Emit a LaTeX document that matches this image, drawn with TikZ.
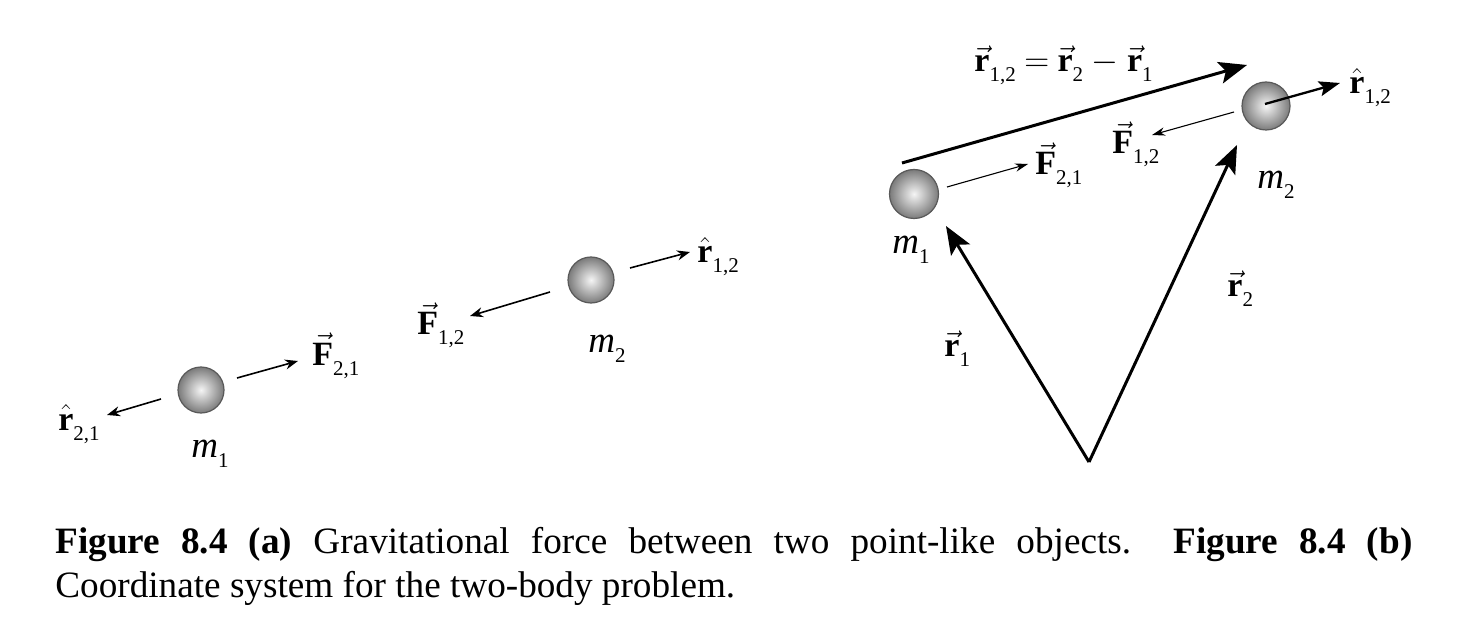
\documentclass[tikz,border=0pt]{standalone}
\usepackage{fontspec}
\setmainfont{Liberation Serif}
\usetikzlibrary{arrows.meta}
\newcommand{\vecF}{$\vec{\textbf{F}}$}
\newcommand{\vecr}{$\vec{\textbf{r}}$}
\newcommand{\hatr}{$\hat{\textbf{r}}$}
\newcommand{\sub}[1]{\raisebox{-5pt}{\fontsize{10.5}{11}\selectfont\upshape\mdseries #1}}
\begin{document}
\begin{tikzpicture}[x=0.5pt,y=-0.5pt,
  lab/.style={inner sep=0pt, anchor=base west, font=\fontsize{17}{20}\selectfont},
  mlab/.style={inner sep=0pt, anchor=base west, font=\fontsize{18.5}{20}\selectfont\itshape},
  sphere/.style={circle, minimum size=#1, inner sep=0pt, draw=black!65, line width=0.6pt, inner color=black!4, outer color=black!52},
  thinarr/.style={line width=0.8pt, -{Stealth[length=6.5pt,width=5pt]}},
  fthin/.style={line width=0.55pt, -{Stealth[length=6.5pt,width=4.2pt]}},
  medarr/.style={line width=1.15pt, -{Stealth[length=10.5pt,width=7.5pt,inset=2pt]}},
  thickarr/.style={line width=1.5pt, -{Stealth[length=14pt,width=11pt,inset=3pt]}}
]
\useasboundingbox (0,0) rectangle (1470,625);

% ---------- (a) ----------
\node[sphere=23pt] (a1) at (201,390) {};
\node[sphere=23pt] (a2) at (591,280) {};

\coordinate (a1l0) at (161,399);
\coordinate (a1l1) at (107,415);
\coordinate (a1r0) at (237,378);
\coordinate (a1r1) at (298,361);
\coordinate (a2l0) at (550,292);
\coordinate (a2l1) at (470,316);
\coordinate (a2r0) at (630,268);
\coordinate (a2r1) at (690,252);

\draw[thinarr] (a1l0) -- (a1l1);
\draw[thinarr] (a1r0) -- (a1r1);
\draw[thinarr] (a2l0) -- (a2l1);
\draw[thinarr] (a2r0) -- (a2r1);

\node[lab] (ar21) at (58,430) {\hatr\sub{2,1}};
\node[lab] (aF21) at (312,365) {\vecF\sub{2,1}};
\node[mlab] (am1) at (191,457) {m\sub{1}};
\node[lab] (aF12) at (417,335) {\vecF\sub{1,2}};
\node[lab] (ar12) at (697,263) {\hatr\sub{1,2}};
\node[mlab] (am2) at (588,352) {m\sub{2}};

% ---------- (b) ----------
\node[sphere=24.5pt] (b1) at (914,194) {};
\node[sphere=24pt] (b2) at (1266,106) {};

\coordinate (O) at (1089,462);
\coordinate (r1tip) at (946,226);
\coordinate (r2tip) at (1237,145);
\coordinate (r12s) at (902,163);
\coordinate (r12e) at (1247,65);
\coordinate (bF21s) at (947,187);
\coordinate (bF21e) at (1028,164);
\coordinate (bF12s) at (1234,112);
\coordinate (bF12e) at (1152,135);
\coordinate (bh12s) at (1265,104);
\coordinate (bh12e) at (1340,83);

\draw[thickarr] (O) -- (r1tip);
\draw[thickarr] (O) -- (r2tip);
\draw[thickarr] (r12s) -- (r12e);
\draw[fthin] (bF21s) -- (bF21e);
\draw[fthin] (bF12s) -- (bF12e);
\draw[medarr] (bh12s) -- (bh12e);

\node[lab] (eq) at (974,72) {\vecr\sub{1,2} $=$ \vecr\sub{2} $-$ \vecr\sub{1}};
\node[lab] (br12) at (1349,94) {\hatr\sub{1,2}};
\node[lab] (bF12) at (1112,154) {\vecF\sub{1,2}};
\node[lab] (bF21) at (1035,175) {\vecF\sub{2,1}};
\node[mlab] (bm2) at (1257,189) {m\sub{2}};
\node[mlab] (bm1) at (892,254) {m\sub{1}};
\node[lab] (br1) at (944,357) {\vecr\sub{1}};
\node[lab] (br2) at (1227,297) {\vecr\sub{2}};

% ---------- caption ----------
\node[anchor=base west, inner sep=0pt] (cap) at (55,553) {\parbox[t]{678.5pt}{\fontsize{18.6}{22}\selectfont\noindent
\textbf{Figure 8.4 (a)} Gravitational force between two point-like objects.\ \ \textbf{Figure 8.4 (b)}\linebreak
Coordinate system for the two-body problem.}};
\end{tikzpicture}
\end{document}
